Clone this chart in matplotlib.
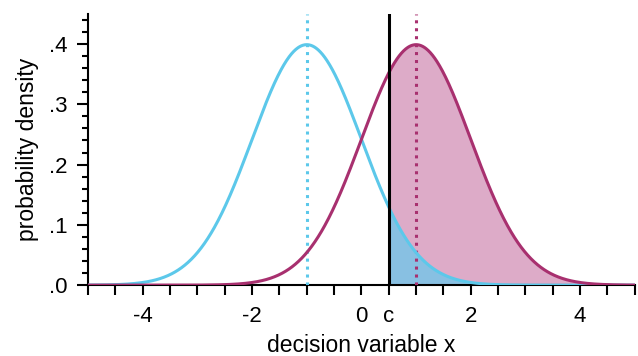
import numpy as np
import matplotlib
matplotlib.use("Agg")
import matplotlib.pyplot as plt

plt.rcParams["font.family"] = ["Liberation Sans", "DejaVu Sans"]

# signal detection setup
noise_mean = -1.0
signal_mean = 1.0
sd = 1.0
criterion = 0.5

x_ticks = np.arange(-5, 5.01, 0.5)
x_labels = {-4.0: "-4", -2.0: "-2", 0.0: "0", 0.5: "c", 2.0: "2", 4.0: "4"}
y_major = [0.0, 0.1, 0.2, 0.3, 0.4]
y_labels = [".0", ".1", ".2", ".3", ".4"]

cyan = "#5cc8ea"
magenta = "#a8306f"
pink_fill = "#ddabc8"
blue_fill = "#88c0e2"


def normal_pdf(x, mu, s):
    return np.exp(-0.5 * ((x - mu) / s) ** 2) / (s * np.sqrt(2 * np.pi))


xs = np.linspace(-5, 5, 1001)
noise = normal_pdf(xs, noise_mean, sd)
signal = normal_pdf(xs, signal_mean, sd)
right = xs >= criterion

fig = plt.figure(figsize=(6.38, 3.56), dpi=100)
ax = fig.add_axes([0.138, 0.199, 0.857, 0.762])

ax.fill_between(xs[right], 0, signal[right], color=pink_fill, lw=0, zorder=1)
ax.fill_between(xs[right], 0, noise[right], color=blue_fill, lw=0, zorder=2)

ax.plot([noise_mean, noise_mean], [0, 0.45], ls=(0, (1, 1.6)), color=cyan, lw=2.2, zorder=3)
ax.plot([signal_mean, signal_mean], [0, 0.45], ls=(0, (1, 1.6)), color=magenta, lw=2.2, zorder=3)

ax.plot(xs, noise, color=cyan, lw=2.2, zorder=4)
ax.plot(xs, signal, color=magenta, lw=2.2, zorder=4)
ax.plot([criterion, criterion], [0, 0.45], color="black", lw=2.2, zorder=5)

ax.set_xlim(-5, 5)
ax.set_ylim(0, 0.45)
ax.spines["top"].set_visible(False)
ax.spines["right"].set_visible(False)
for s in ("left", "bottom"):
    ax.spines[s].set_linewidth(1.5)

ax.set_xticks(x_ticks)
ax.set_xticklabels([x_labels.get(round(float(t), 1), "") for t in x_ticks])
ax.set_yticks(y_major)
ax.set_yticklabels(y_labels)
ax.set_yticks(np.arange(0, 0.451, 0.02), minor=True)

ax.tick_params(axis="x", length=7, width=1.5, pad=8, labelsize=16)
ax.tick_params(axis="y", which="major", length=8, width=1.5, pad=7, labelsize=16)
ax.tick_params(axis="y", which="minor", length=4, width=1.5)

ax.set_xlabel("decision variable x", fontsize=16.5, labelpad=5)
ax.set_ylabel("probability density", fontsize=16.5, labelpad=7)

fig.savefig("out.png", dpi=100)
